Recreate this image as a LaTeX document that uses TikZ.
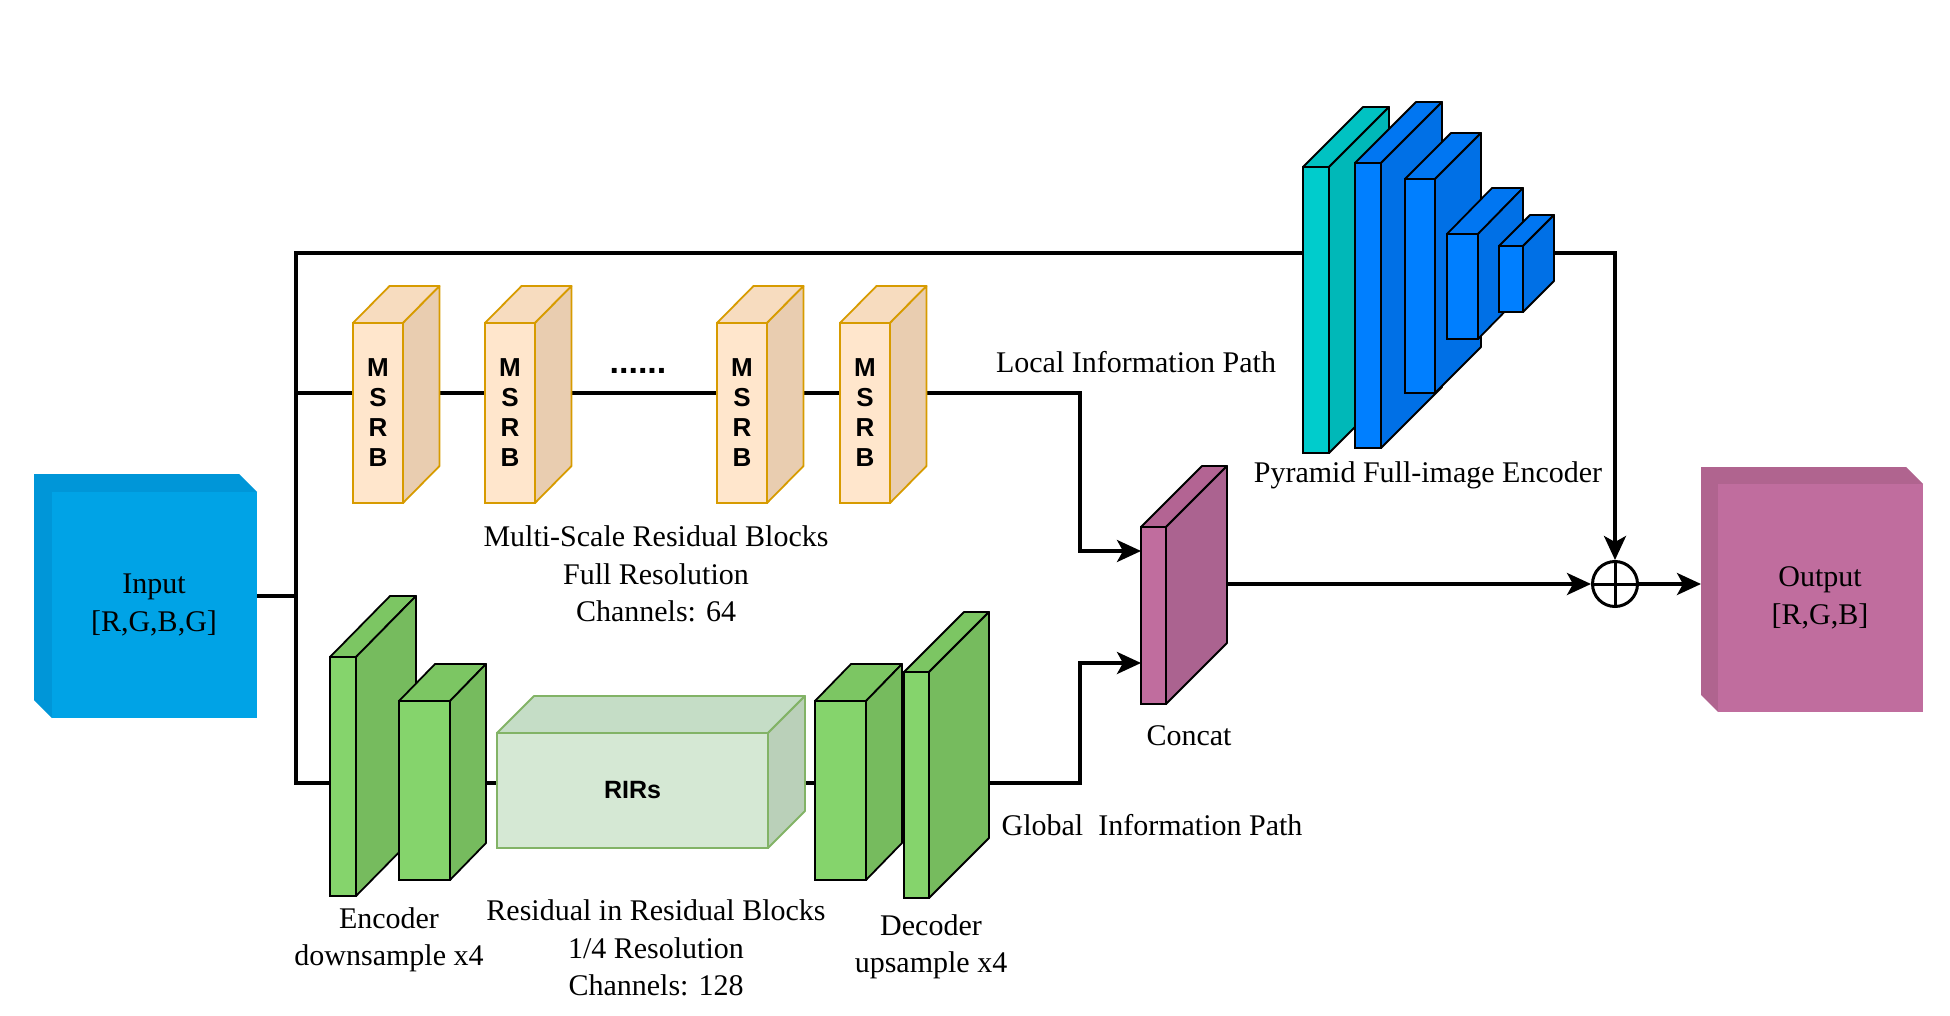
\documentclass[tikz,border=0pt]{standalone}
\usepackage{fontspec}
\setmainfont{Liberation Serif}
\setsansfont{Liberation Sans}
\usetikzlibrary{positioning,fit,calc,arrows.meta,backgrounds}

\definecolor{msrbF}{HTML}{FFE6CC}
\definecolor{msrbT}{HTML}{F7DCBF}
\definecolor{msrbS}{HTML}{E9CDB0}
\definecolor{msrbL}{HTML}{D79B00}
\definecolor{rirF}{HTML}{D5E8D4}
\definecolor{rirT}{HTML}{C5DDC6}
\definecolor{rirS}{HTML}{BAD0B9}
\definecolor{rirL}{HTML}{82B366}
\definecolor{grnF}{HTML}{85D46C}
\definecolor{grnT}{HTML}{7CC663}
\definecolor{grnS}{HTML}{76BB5E}
\definecolor{ccF}{HTML}{C06D9E}
\definecolor{ccT}{HTML}{B36493}
\definecolor{ccS}{HTML}{AB6390}
\definecolor{cyF}{HTML}{00CCCC}
\definecolor{cyT}{HTML}{00C2C2}
\definecolor{cyS}{HTML}{00B8B8}
\definecolor{blF}{HTML}{007FFF}
\definecolor{blT}{HTML}{0076F2}
\definecolor{blS}{HTML}{0070E6}
\definecolor{inF}{HTML}{00A3E6}
\definecolor{inS}{HTML}{0096D8}
\definecolor{outF}{HTML}{C06D9E}
\definecolor{outS}{HTML}{B0648F}

% block with front face (node), top and side face
% #1 style, #2 name, #3,#4 top left, #5,#6 bottom right, #7,#8 depth
\newcommand{\slab}[8]{%
  \node[#1 front, fit={(#3,#4) (#5,#6)}] (#2) {};
  \filldraw[#1 top] (#2.north west) -- ++(#7,-#8) -- ++(#5-#3,0) -- (#2.north east) -- cycle;
  \filldraw[#1 side] (#2.north east) -- ++(#7,-#8) -- ++(0,#6-#4) -- (#2.south east) -- cycle;
}
% flat box with shaded left and top strips
% #1 style, #2 name, #3,#4 top left, #5,#6 bottom right, #7 depth
\newcommand{\bevelbox}[7]{%
  \fill[#1 side] (#3-#7,#4-#7) -- (#5-#7,#4-#7) -- (#5,#4) -- (#3,#4) -- (#3,#6) -- (#3-#7,#6-#7) -- cycle;
  \fill[#1 front] (#3,#4) rectangle (#5,#6);
  \node[inner sep=0pt, outer sep=0pt, fit={(#3-#7,#4-#7) (#5,#6)}] (#2) {};
}

\begin{document}
\begin{tikzpicture}[x=0.5pt, y=-0.5pt,
    slab/.style={draw=black, line width=0.9pt, inner sep=0pt, outer sep=0pt},
    face/.style={draw=black, line width=0.9pt, line join=round},
    msrb front/.style={slab, draw=msrbL, fill=msrbF},
    msrb top/.style={face, draw=msrbL, fill=msrbT},
    msrb side/.style={face, draw=msrbL, fill=msrbS},
    rir front/.style={slab, draw=rirL, fill=rirF},
    rir top/.style={face, draw=rirL, fill=rirT},
    rir side/.style={face, draw=rirL, fill=rirS},
    grn front/.style={slab, fill=grnF},
    grn top/.style={face, fill=grnT},
    grn side/.style={face, fill=grnS},
    cc front/.style={slab, fill=ccF},
    cc top/.style={face, fill=ccT},
    cc side/.style={face, fill=ccS},
    cy front/.style={slab, fill=cyF},
    cy top/.style={face, fill=cyT},
    cy side/.style={face, fill=cyS},
    bl front/.style={slab, fill=blF},
    bl top/.style={face, fill=blT},
    bl side/.style={face, fill=blS},
    in front/.style={fill=inF},
    in side/.style={fill=inS},
    out front/.style={fill=outF},
    out side/.style={fill=outS},
    lbl/.style={font=\fontsize{15}{18.75}\selectfont, align=center, inner sep=0pt},
    boldtxt/.style={font=\sffamily\bfseries\fontsize{13}{15}\selectfont, align=center, inner sep=0pt},
    conn/.style={line width=1.75pt},
    arr/.style={conn, -{Stealth[length=12pt, width=11pt, inset=3pt]}},
    sumnode/.style={circle, draw, line width=1.5pt, minimum size=22.5pt, inner sep=0pt,
      path picture={\draw[line width=1.5pt] (path picture bounding box.north) -- (path picture bounding box.south)
        (path picture bounding box.west) -- (path picture bounding box.east);}}
  ]
  \useasboundingbox (0,0) rectangle (1950,1016);

  % Input and output
  \bevelbox{in}{inp}{52}{492}{257}{718}{18}
  \node[lbl] (inptxt) at (154,605) {Input\\{[R,G,B,G]}};
  \bevelbox{out}{outp}{1718}{484}{1923}{712}{17}
  \node[lbl] (outtxt) at (1820,598) {Output\\{[R,G,B]}};

  % Multi-scale residual blocks
  \foreach \n/\x in {m1/353, m2/485, m3/717, m4/840} {
    \slab{msrb}{\n}{\x}{323}{\x+50}{503}{36.5}{37}
    \node[boldtxt] (\n-txt) at (\n) {M\\S\\R\\B};
  }
  \node[font=\sffamily\bfseries\fontsize{17}{17}\selectfont, inner sep=0pt] (dots) at (638,371) {......};

  % Encoder, RIRs, decoder
  \slab{grn}{e1}{330}{657}{356}{896}{60}{61}
  \slab{grn}{e2}{399}{701}{450}{880}{36}{37}
  \slab{rir}{rir}{497}{733}{768}{848}{37}{37}
  \node[boldtxt, font=\sffamily\bfseries\fontsize{12.5}{15}\selectfont] (rirtxt) at (rir) {RIRs};
  \slab{grn}{d1}{815}{701}{866}{880}{36}{37}
  \slab{grn}{d2}{904}{672}{929}{898}{60}{60}

  % Concat
  \slab{cc}{cc}{1141}{527}{1166}{704}{61}{61}

  % Pyramid encoder
  \slab{cy}{pa}{1303}{167}{1329}{453}{60}{60}
  \slab{bl}{pb}{1355}{163}{1381}{448}{61}{61}
  \slab{bl}{pc}{1405}{179}{1435}{393}{46}{46}
  \slab{bl}{pd}{1447}{234}{1478}{339}{45}{46}
  \slab{bl}{pe}{1499}{246}{1523}{312}{31}{31}

  \node[sumnode] (sum) at (1615,584) {};

  % Connectors
  \coordinate (jtop) at (296,253);
  \coordinate (jloc) at (296,393);
  \coordinate (jbot) at (296,783);
  \coordinate (lbend) at (1080,551);
  \coordinate (gbend) at (1080,663);
  \begin{scope}[on background layer]
    \draw[conn] (inp.east) -- (inp.east -| jtop);
    \draw[arr] (jbot) -- (jtop) -| (sum.north);
    \draw[arr] (jloc) -| (lbend) -- (lbend -| cc.west);
    \draw[arr] (jloc) -- (jbot) -| (gbend) -- (gbend -| cc.west);
    \draw[arr] (cc.east |- sum) -- (sum.west);
  \end{scope}
  \draw[arr] (sum.east) -- (outp.west |- sum);

  % Labels
  \node[lbl] (msrbcap) at (656,574) {Multi-Scale Residual Blocks\\Full Resolution\\Channels: 64};
  \node[lbl] (rircap) at (656,948) {Residual in Residual Blocks\\1/4 Resolution\\Channels: 128};
  \node[lbl] (enccap) at (389,940) {Encoder\\downsample x4};
  \node[lbl] (deccap) at (931,947) {Decoder\\upsample x4};
  \node[lbl] (cccap) at (1189,736) {Concat};
  \node[lbl] (pyrcap) at (1428,475) {Pyramid Full-image Encoder};
  \node[lbl] (loccap) at (1136,362) {Local Information Path};
  \node[lbl] (globcap) at (1152,825) {Global\ \ Information Path};
\end{tikzpicture}
\end{document}
